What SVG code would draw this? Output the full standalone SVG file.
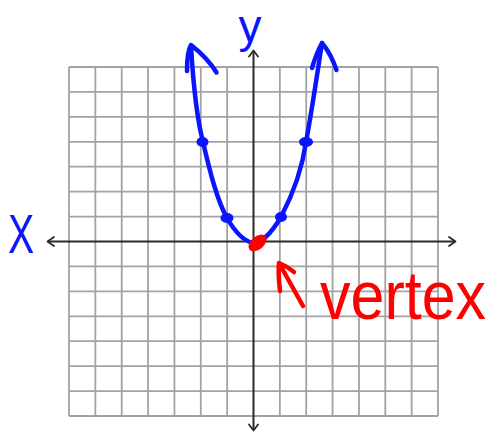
<svg xmlns="http://www.w3.org/2000/svg" width="493" height="436" viewBox="0 0 493 436">
<style>
.grid{fill:none;stroke:#a3a3a3;stroke-width:1.8}
.axis{fill:none;stroke:#2a2a2a;stroke-width:2}
.head{fill:none;stroke:#2a2a2a;stroke-width:1.8;stroke-linecap:round;stroke-linejoin:round}
.blue{fill:none;stroke:#0a14ff;stroke-width:4.5;stroke-linecap:round;stroke-linejoin:round}
.bdot{fill:#0a14ff}
.red{fill:none;stroke:#ff0000;stroke-width:4.5;stroke-linecap:round;stroke-linejoin:round}
.lbl{font-family:"Liberation Sans",Arial,sans-serif}
</style>
<rect width="493" height="436" fill="#ffffff"/>
<g id="grid">
<path class="grid" d="M69,67V416M95.36,67V416M121.71,67V416M148.07,67V416M174.43,67V416M200.79,67V416M227.14,67V416M279.86,67V416M306.21,67V416M332.57,67V416M358.93,67V416M385.29,67V416M411.64,67V416M438,67V416
M69,67H438M69,91.93H438M69,116.86H438M69,141.79H438M69,166.71H438M69,191.64H438M69,216.57H438M69,266.43H438M69,291.36H438M69,316.29H438M69,341.21H438M69,366.14H438M69,391.07H438M69,416H438"/>
</g>
<g id="axes">
<path class="axis" d="M48,241.5H455M253.5,51V430"/>
<path class="head" d="M54,237L47.5,241.5L54,246M449,237L455.5,241.5L449,246M249,56.5L253.5,50.5L258,56.5M249,424.5L253.5,430.5L258,424.5"/>
</g>
<g id="parabola">
<path class="blue" d="M191,46C193,80 196,115 203,142C210,172 217,200 227,218C235,232 244,241 253,243C262,243 272,232 281,217C292,196 302,170 306,142C312,110 317,75 322,43"/>
<path class="blue" d="M187,71C187,60 188,50 191,45C200,52 210,62 216.5,72.5"/>
<path class="blue" d="M312,68C315,58 318,50 322,43C328,50 333,60 336.5,70"/>
<ellipse class="bdot" cx="202.5" cy="142" rx="6" ry="5"/>
<ellipse class="bdot" cx="306" cy="142" rx="7" ry="5"/>
<ellipse class="bdot" cx="227" cy="218" rx="6.5" ry="5"/>
<ellipse class="bdot" cx="281" cy="217" rx="6" ry="5"/>
</g>
<g id="vertex">
<ellipse cx="257.5" cy="243" rx="10.5" ry="6.5" transform="rotate(-40 257.5 243)" fill="#ff0000"/>
<path class="red" d="M303,306L279,263M280,291C279,282 278,272 279,263C284,265 289,268 294,272"/>
<text class="lbl" transform="translate(320,319) scale(1,1.12)" x="0" y="0" font-size="61" fill="#ff0000">vertex</text>
</g>
<g id="labels">
<text class="lbl" x="250" y="42" font-size="46" fill="#0a14ff" text-anchor="middle">y</text>
<text class="lbl" x="8" y="253" font-size="56" fill="#0a14ff" textLength="26" lengthAdjust="spacingAndGlyphs">X</text>
</g>
</svg>
